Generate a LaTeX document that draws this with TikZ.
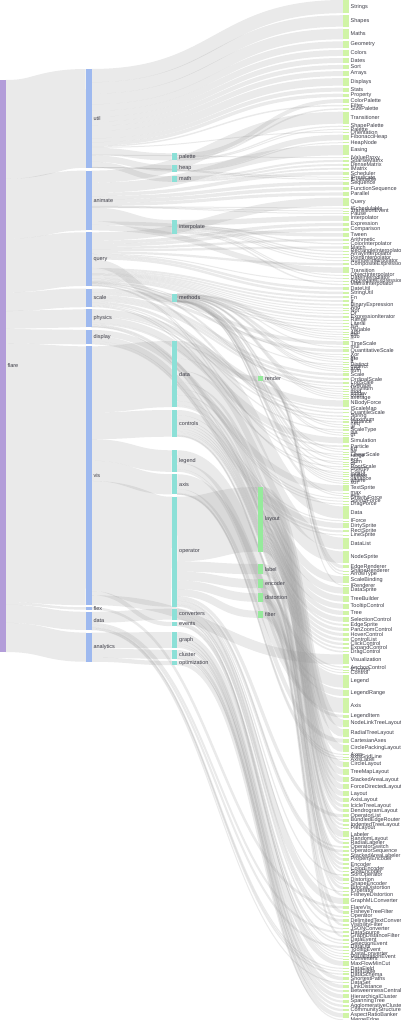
\documentclass[tikz,border=0pt]{standalone}
\usepackage{fontspec}
\setmainfont{Liberation Sans}
\definecolor{colF}{RGB}{179,157,217}
\definecolor{colA}{RGB}{158,185,239}
\definecolor{colB}{RGB}{140,224,215}
\definecolor{colC}{RGB}{150,234,156}
\definecolor{colD}{RGB}{208,244,166}
\definecolor{linkc}{RGB}{150,150,150}
\definecolor{txtc}{RGB}{60,60,70}
\def\KY{1671.554}
\def\PAD{2.04566}
\def\NW{5.5}
\newif\iflinkpass
\newcommand\setnode[4]{%
  \expandafter\xdef\csname nx@#1\endcsname{#2}%
  \expandafter\xdef\csname ny@#1\endcsname{#3}%
  \expandafter\xdef\csname nh@#1\endcsname{\fpeval{round(#4/\KY,4)}}%
  \expandafter\xdef\csname no@#1\endcsname{0}}
\newcommand\linkto[4]{%
  \xdef\Lsy{\fpeval{round(\csname ny@#1\endcsname+\csname no@#1\endcsname+(#4)/2,3)}}%
  \expandafter\xdef\csname no@#1\endcsname{\fpeval{\csname no@#1\endcsname+(#4)}}%
  \xdef\Lsx{\fpeval{\csname nx@#1\endcsname+\NW}}%
  \xdef\Ltx{\fpeval{#2}}%
  \xdef\Lty{\fpeval{round(#3,3)}}%
  \xdef\Lmx{\fpeval{round((\Lsx+\Ltx)/2,3)}}%
  \xdef\Llw{\fpeval{round(max(1,#4),3)}}%
  \draw[lnk,line width=\Llw pt] (\Lsx,\Lsy) .. controls (\Lmx,\Lsy) and (\Lmx,\Lty) .. (\Ltx,\Lty);}
\newcommand\ilink[2]{%
  \iflinkpass
  \xdef\Itc{\fpeval{round(\csname ny@#1\endcsname+\csname nh@#1\endcsname/2,3)}}%
  \xdef\Itx{\csname nx@#1\endcsname}%
  \xdef\Ith{\csname nh@#1\endcsname}%
  \linkto{#2}{\Itx}{\Itc}{\Ith}%
  \fi}
\newcount\leafno
\newcommand\leaf[3]{%
  \global\advance\leafno by 1
  \xdef\Fh{\fpeval{round(#3/\KY,4)}}%
  \xdef\Fy{\fpeval{round(\cury,3)}}%
  \xdef\Fc{\fpeval{round(\cury+\Fh/2,3)}}%
  \iflinkpass
    \linkto{#2}{343}{\Fc}{\Fh}%
  \else
    \fill[colD] (343,\Fy) rectangle ++(\NW,\Fh);
    \node[lbl] (leaf\the\leafno) at (350.5,\Fc) {#1};
  \fi
  \xdef\cury{\fpeval{\cury+\Fh+\PAD}}}
\newcommand\inode[3]{%
  \xdef\Nx{\csname nx@#1\endcsname}%
  \xdef\Ny{\csname ny@#1\endcsname}%
  \xdef\Nh{\csname nh@#1\endcsname}%
  \xdef\Nlx{\fpeval{\Nx+\NW+1.8}}%
  \xdef\Nly{\fpeval{round(\Ny+\Nh/2,3)}}%
  \fill[#3] (\Nx,\Ny) rectangle ++(\NW,\Nh);
  \node[lbl] (n-#1) at (\Nlx,\Nly) {#2};}
\def\LeafList{%
\leaf{Strings}{util}{22026}
\leaf{Shapes}{util}{19118}
\leaf{Maths}{util}{17705}
\leaf{Geometry}{util}{10993}
\leaf{Colors}{util}{10001}
\leaf{Dates}{util}{8217}
\leaf{Sort}{util}{6887}
\leaf{Arrays}{util}{8258}
\leaf{Displays}{util}{12555}
\leaf{Stats}{util}{6557}
\leaf{Property}{util}{5559}
\leaf{ColorPalette}{palette}{6367}
\leaf{Filter}{util}{2324}
\leaf{SizePalette}{palette}{2291}
\leaf{Transitioner}{animate}{19975}
\leaf{ShapePalette}{palette}{2059}
\leaf{Palette}{palette}{1229}
\leaf{Orientation}{util}{1486}
\leaf{FibonacciHeap}{heap}{9354}
\leaf{HeapNode}{heap}{1233}
\leaf{Easing}{animate}{17010}
\ilink{palette}{util}
\leaf{IValueProxy}{util}{874}
\ilink{heap}{util}
\leaf{SparseMatrix}{math}{3366}
\leaf{DenseMatrix}{math}{3165}
\leaf{IMatrix}{math}{2815}
\leaf{Scheduler}{animate}{5593}
\ilink{math}{util}
\leaf{IPredicate}{util}{383}
\leaf{IEvaluable}{util}{335}
\leaf{Sequence}{animate}{5534}
\leaf{FunctionSequence}{animate}{5842}
\leaf{Parallel}{animate}{5176}
\leaf{Query}{query}{13896}
\leaf{ISchedulable}{animate}{1041}
\leaf{TransitionEvent}{animate}{1116}
\leaf{Pause}{animate}{449}
\leaf{Interpolator}{interp}{8746}
\ilink{interp}{animate}
\leaf{Expression}{query}{5130}
\leaf{Comparison}{query}{5103}
\leaf{Tween}{animate}{6006}
\leaf{Arithmetic}{query}{3891}
\leaf{ColorInterpolator}{interp}{2047}
\leaf{Match}{query}{3748}
\leaf{RectangleInterpolator}{interp}{2042}
\leaf{ArrayInterpolator}{interp}{1983}
\leaf{PointInterpolator}{interp}{1675}
\leaf{NumberInterpolator}{interp}{1382}
\leaf{CompositeExpression}{query}{3677}
\leaf{Transition}{animate}{9201}
\leaf{ObjectInterpolator}{interp}{1629}
\leaf{DateInterpolator}{interp}{1375}
\leaf{AggregateExpression}{query}{1616}
\leaf{MatrixInterpolator}{interp}{2202}
\leaf{DateUtil}{query}{4141}
\leaf{StringUtil}{query}{4130}
\ilink{methods}{query}
\leaf{Fn}{query}{3240}
\leaf{If}{query}{2732}
\leaf{BinaryExpression}{query}{2893}
\leaf{And}{query}{1027}
\leaf{Not}{query}{1554}
\leaf{Or}{query}{970}
\leaf{ExpressionIterator}{query}{3617}
\leaf{Range}{query}{1594}
\leaf{Literal}{query}{1214}
\leaf{IsA}{query}{2039}
\leaf{Variable}{query}{1124}
\leaf{add}{methods}{593}
\leaf{div}{methods}{595}
\leaf{sub}{methods}{600}
\leaf{\_}{methods}{264}
\leaf{TimeScale}{scale}{5833}
\leaf{mul}{methods}{603}
\leaf{QuantitativeScale}{scale}{4839}
\leaf{Xor}{query}{1101}
\leaf{fn}{methods}{460}
\leaf{gte}{methods}{625}
\leaf{lt}{methods}{597}
\leaf{Distinct}{query}{933}
\leaf{distinct}{methods}{292}
\leaf{and}{methods}{330}
\leaf{sum}{methods}{280}
\leaf{Scale}{scale}{4268}
\leaf{OrdinalScale}{scale}{3770}
\leaf{LogScale}{scale}{3151}
\leaf{Average}{query}{891}
\leaf{Minimum}{query}{843}
\leaf{mod}{methods}{591}
\leaf{stddev}{methods}{363}
\leaf{count}{methods}{277}
\leaf{average}{methods}{287}
\leaf{NBodyForce}{physics}{10498}
\leaf{IScaleMap}{scale}{2105}
\leaf{QuantileScale}{scale}{2435}
\leaf{Spring}{physics}{2213}
\leaf{Maximum}{query}{843}
\leaf{Variance}{query}{1876}
\leaf{neq}{methods}{599}
\leaf{iff}{methods}{748}
\leaf{ScaleType}{scale}{1821}
\leaf{isa}{methods}{461}
\leaf{gt}{methods}{603}
\leaf{Simulation}{physics}{9983}
\leaf{Particle}{physics}{2822}
\leaf{eq}{methods}{594}
\leaf{lte}{methods}{619}
\leaf{LinearScale}{scale}{1316}
\leaf{range}{methods}{772}
\leaf{not}{methods}{386}
\leaf{Sum}{query}{791}
\leaf{or}{methods}{323}
\leaf{RootScale}{scale}{1756}
\leaf{orderby}{methods}{307}
\leaf{Count}{query}{781}
\leaf{select}{methods}{296}
\leaf{update}{methods}{307}
\leaf{variance}{methods}{335}
\leaf{where}{methods}{299}
\leaf{xor}{methods}{354}
\leaf{TextSprite}{display}{10066}
\leaf{max}{methods}{283}
\leaf{min}{methods}{283}
\leaf{GravityForce}{physics}{1336}
\leaf{SpringForce}{physics}{1681}
\leaf{DragForce}{physics}{1082}
\leaf{Data}{vdata}{20544}
\leaf{IForce}{physics}{319}
\leaf{DirtySprite}{display}{8833}
\leaf{RectSprite}{display}{3623}
\leaf{LineSprite}{display}{1732}
\leaf{DataList}{vdata}{19788}
\leaf{NodeSprite}{vdata}{19382}
\leaf{EdgeRenderer}{render}{5569}
\leaf{ShapeRenderer}{render}{2247}
\leaf{ArrowType}{render}{698}
\leaf{ScaleBinding}{vdata}{11275}
\leaf{IRenderer}{render}{353}
\leaf{DataSprite}{vdata}{10349}
\leaf{TreeBuilder}{vdata}{9930}
\leaf{TooltipControl}{controls}{8435}
\leaf{Tree}{vdata}{7147}
\leaf{SelectionControl}{controls}{7862}
\leaf{EdgeSprite}{vdata}{3301}
\leaf{PanZoomControl}{controls}{5222}
\leaf{HoverControl}{controls}{4896}
\leaf{ControlList}{controls}{4665}
\leaf{ClickControl}{controls}{3824}
\leaf{ExpandControl}{controls}{2832}
\leaf{DragControl}{controls}{2649}
\leaf{Visualization}{vis}{16540}
\leaf{AnchorControl}{controls}{2138}
\leaf{IControl}{controls}{763}
\leaf{Control}{controls}{1353}
\leaf{Legend}{legend}{20859}
\leaf{LegendRange}{legend}{10530}
\leaf{Axis}{axis}{24593}
\leaf{LegendItem}{legend}{4614}
\leaf{NodeLinkTreeLayout}{layout}{12870}
\leaf{RadialTreeLayout}{layout}{12348}
\leaf{CartesianAxes}{axis}{6703}
\leaf{CirclePackingLayout}{layout}{12003}
\leaf{Axes}{axis}{1302}
\leaf{AxisGridLine}{axis}{652}
\leaf{AxisLabel}{axis}{636}
\leaf{CircleLayout}{layout}{9317}
\leaf{TreeMapLayout}{layout}{9191}
\leaf{StackedAreaLayout}{layout}{9121}
\leaf{ForceDirectedLayout}{layout}{8411}
\leaf{Layout}{layout}{7881}
\leaf{AxisLayout}{layout}{6725}
\leaf{IcicleTreeLayout}{layout}{4864}
\leaf{DendrogramLayout}{layout}{4853}
\leaf{OperatorList}{operator}{5248}
\leaf{BundledEdgeRouter}{layout}{3727}
\leaf{IndentedTreeLayout}{layout}{3174}
\leaf{PieLayout}{layout}{2728}
\leaf{Labeler}{label}{9956}
\leaf{RandomLayout}{layout}{870}
\leaf{RadialLabeler}{label}{3899}
\leaf{OperatorSwitch}{operator}{2581}
\leaf{OperatorSequence}{operator}{4190}
\leaf{StackedAreaLabeler}{label}{3202}
\leaf{PropertyEncoder}{encoder}{4138}
\leaf{Encoder}{encoder}{4060}
\leaf{ColorEncoder}{encoder}{3179}
\leaf{SizeEncoder}{encoder}{1830}
\leaf{SortOperator}{operator}{2023}
\leaf{Distortion}{distortion}{6314}
\leaf{ShapeEncoder}{encoder}{1690}
\leaf{BifocalDistortion}{distortion}{4461}
\leaf{IOperator}{operator}{1286}
\leaf{FisheyeDistortion}{distortion}{3444}
\leaf{GraphMLConverter}{converters}{9800}
\leaf{FlareVis}{flex}{4116}
\leaf{FisheyeTreeFilter}{filter}{5219}
\leaf{Operator}{operator}{2490}
\leaf{DelimitedTextConverter}{converters}{4294}
\leaf{VisibilityFilter}{filter}{3509}
\leaf{JSONConverter}{converters}{2220}
\leaf{DataSource}{data}{3331}
\leaf{GraphDistanceFilter}{filter}{3165}
\leaf{DataEvent}{events}{2313}
\leaf{SelectionEvent}{events}{1880}
\leaf{DataUtil}{data}{3322}
\leaf{TooltipEvent}{events}{1701}
\leaf{IDataConverter}{converters}{1314}
\leaf{VisualizationEvent}{events}{1117}
\leaf{Converters}{converters}{721}
\leaf{MaxFlowMinCut}{graph}{7840}
\leaf{DataField}{data}{1759}
\leaf{DataTable}{data}{772}
\leaf{DataSchema}{data}{2165}
\leaf{ShortestPaths}{graph}{5914}
\leaf{DataSet}{data}{586}
\leaf{LinkDistance}{graph}{5731}
\leaf{BetweennessCentrality}{graph}{3534}
\leaf{HierarchicalCluster}{cluster}{6714}
\leaf{SpanningTree}{graph}{3416}
\leaf{AgglomerativeCluster}{cluster}{3938}
\leaf{CommunityStructure}{cluster}{3812}
\leaf{AspectRatioBanker}{optim}{7074}
\leaf{MergeEdge}{cluster}{743}
}
\begin{document}
\begin{tikzpicture}[x=1pt,y=-1pt,
  lnk/.style={draw=linkc,draw opacity=0.2},
  lbl/.style={anchor=west,inner sep=0pt,font=\fontsize{5.5}{6}\selectfont,text=txtc}]
\useasboundingbox (0,0) rectangle (400,1020);
\fill[white] (0,0) rectangle (400,1020);
% nodes
\setnode{flare}{0}{80}{956129}
\setnode{util}{86}{69.0}{165157}
\setnode{animate}{86}{170.6}{100024}
\setnode{query}{86}{232.3}{89721}
\setnode{scale}{86}{288.5}{31294}
\setnode{physics}{86}{309.2}{29934}
\setnode{display}{86}{329.9}{24254}
\setnode{vis}{86}{346.3}{432629}
\setnode{flex}{86}{607.2}{4116}
\setnode{data}{86}{611.8}{30284}
\setnode{analytics}{86}{632.6}{48716}
\setnode{palette}{171.7}{153.3}{11946}
\setnode{heap}{171.7}{165.2}{10587}
\setnode{math}{171.7}{176.2}{9346}
\setnode{interp}{171.7}{220.0}{23081}
\setnode{methods}{171.7}{293.6}{14326}
\setnode{vdata}{171.7}{341.0}{110583}
\setnode{controls}{171.7}{410.0}{44639}
\setnode{legend}{171.7}{450.3}{36003}
\setnode{axis}{171.7}{474.2}{33886}
\setnode{operator}{171.7}{496.7}{183967}
\setnode{converters}{171.7}{608.7}{18349}
\setnode{events}{171.7}{622.0}{7011}
\setnode{graph}{171.7}{632.0}{26435}
\setnode{cluster}{171.7}{650.0}{15207}
\setnode{optim}{171.7}{661.0}{7074}
\setnode{render}{257.5}{376.0}{8867}
\setnode{layout}{257.5}{487.0}{108083}
\setnode{label}{257.5}{564.0}{17057}
\setnode{encoder}{257.5}{579.3}{14897}
\setnode{distortion}{257.5}{593.3}{14219}
\setnode{filter}{257.5}{610.7}{11893}
% pass 1: links
\linkpasstrue
\ilink{util}{flare}\ilink{animate}{flare}\ilink{query}{flare}\ilink{scale}{flare}
\ilink{physics}{flare}\ilink{display}{flare}\ilink{vis}{flare}\ilink{flex}{flare}
\ilink{data}{flare}\ilink{analytics}{flare}
\ilink{vdata}{vis}\ilink{controls}{vis}\ilink{legend}{vis}\ilink{axis}{vis}
\ilink{operator}{vis}\ilink{events}{vis}
\ilink{render}{vdata}
\ilink{layout}{operator}\ilink{label}{operator}\ilink{encoder}{operator}
\ilink{distortion}{operator}\ilink{filter}{operator}
\ilink{converters}{data}
\ilink{graph}{analytics}\ilink{cluster}{analytics}\ilink{optim}{analytics}
\xdef\cury{0}
\LeafList
% pass 2: leaf boxes and labels
\linkpassfalse
\xdef\cury{0}
\global\leafno=0
\LeafList
% internal node boxes
\inode{flare}{flare}{colF}
\inode{util}{util}{colA}
\inode{animate}{animate}{colA}
\inode{query}{query}{colA}
\inode{scale}{scale}{colA}
\inode{physics}{physics}{colA}
\inode{display}{display}{colA}
\inode{vis}{vis}{colA}
\inode{flex}{flex}{colA}
\inode{data}{data}{colA}
\inode{analytics}{analytics}{colA}
\inode{palette}{palette}{colB}
\inode{heap}{heap}{colB}
\inode{math}{math}{colB}
\inode{interp}{interpolate}{colB}
\inode{methods}{methods}{colB}
\inode{vdata}{data}{colB}
\inode{controls}{controls}{colB}
\inode{legend}{legend}{colB}
\inode{axis}{axis}{colB}
\inode{operator}{operator}{colB}
\inode{converters}{converters}{colB}
\inode{events}{events}{colB}
\inode{graph}{graph}{colB}
\inode{cluster}{cluster}{colB}
\inode{optim}{optimization}{colB}
\inode{render}{render}{colC}
\inode{layout}{layout}{colC}
\inode{label}{label}{colC}
\inode{encoder}{encoder}{colC}
\inode{distortion}{distortion}{colC}
\inode{filter}{filter}{colC}
\end{tikzpicture}
\end{document}
